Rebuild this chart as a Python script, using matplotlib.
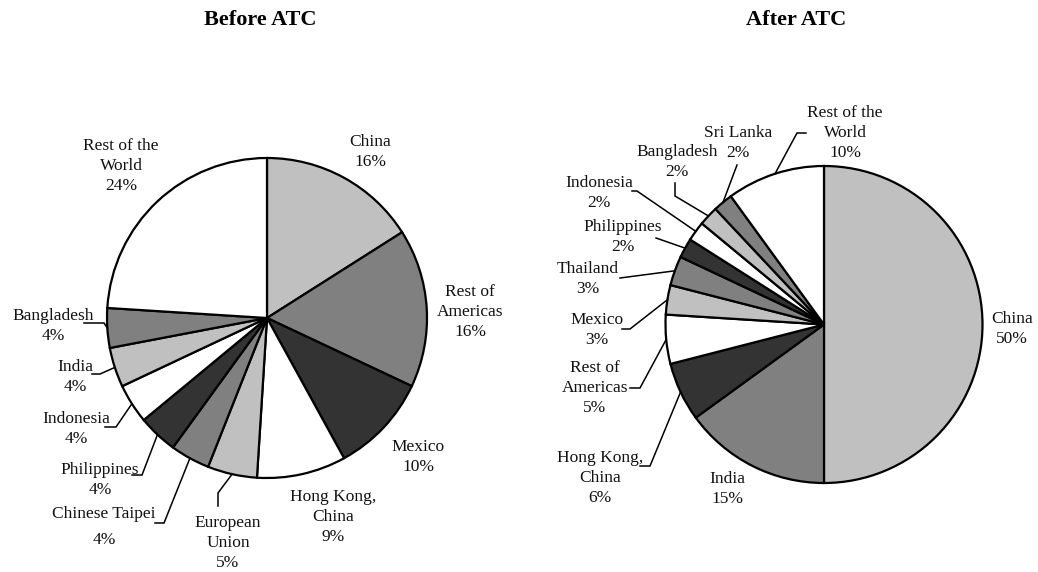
import matplotlib
matplotlib.use("Agg")
import matplotlib.pyplot as plt
import numpy as np

# ---- data -------------------------------------------------------------
before_labels = ["China", "Rest of\nAmericas", "Mexico", "Hong Kong,\nChina",
                 "European\nUnion", "Chinese Taipei", "Philippines", "Indonesia",
                 "India", "Bangladesh", "Rest of the\nWorld"]
before_values = [16, 16, 10, 9, 5, 4, 4, 4, 4, 4, 24]

after_labels = ["China", "India", "Hong Kong,\nChina", "Rest of\nAmericas",
                "Mexico", "Thailand", "Philippines", "Indonesia", "Bangladesh",
                "Sri Lanka", "Rest of the\nWorld"]
after_values = [50, 15, 6, 5, 3, 3, 2, 2, 2, 2, 10]

titles = ["Before ATC", "After ATC"]

# grey shades, slice by slice (the last slice, rest of the world, is white)
LG, MG, DG, WH = "#c0c0c0", "#808080", "#333333", "#ffffff"
slice_shades = [LG, MG, DG, WH, LG, MG, DG, WH, LG, MG, WH]

# ---- layout (canvas pixels, origin top-left) ---------------------------
W, H = 1038, 572
SERIF = ["Liberation Serif", "DejaVu Serif"]

before_layout = dict(
    center=(267, 318), radius=160, title=(260, 20),
    text={
        "China": ((370, 152), None),
        "Rest of\nAmericas": ((470, 312), None),
        "Mexico": ((418, 457), None),
        "Hong Kong,\nChina": ((333, 517), None),
        "European\nUnion": ((228, 543), [(218, 493), (218, 506)]),
        "Chinese Taipei": ((104, 527), [(164, 523), (155, 523)]),
        "Philippines": ((100, 480), [(142, 475), (132, 475)]),
        "Indonesia": ((76, 429), [(116, 427), (105, 427)]),
        "India": ((75, 377), [(100, 374), (92, 374)]),
        "Bangladesh": ((53, 326), [(104, 323), (84, 323)]),
        "Rest of the\nWorld": ((121, 166), None),
    },
)

after_layout = dict(
    center=(824, 324.5), radius=158.5, title=(796, 20),
    text={
        "China": ((1012, 329), None),
        "India": ((727, 489), None),
        "Hong Kong,\nChina": ((600, 478), [(650, 466), (640, 466)]),
        "Rest of\nAmericas": ((595, 388), [(640, 388), (630, 388)]),
        "Mexico": ((597, 330), [(630, 329), (622, 329)]),
        "Thailand": ((588, 279), [(620, 278)]),
        "Philippines": ((623, 237), [(656, 238)]),
        "Indonesia": ((599, 193), [(637, 191), (632, 191)]),
        "Bangladesh": ((677, 162), [(675, 196), (675, 183)]),
        "Sri Lanka": ((738, 143), [(737, 165)]),
        "Rest of the\nWorld": ((845, 133), [(797, 133), (806, 133)]),
    },
)

fig = plt.figure(figsize=(W / 100, H / 100), dpi=100)
ax = fig.add_axes([0, 0, 1, 1])


def draw_pie(labels, values, layout, title):
    cx, cy = layout["center"]
    r = layout["radius"]
    wedges, _ = ax.pie(values, colors=slice_shades[:len(values)],
                       center=(cx, cy), radius=r,
                       startangle=-90, counterclock=True,
                       wedgeprops=dict(edgecolor="black", linewidth=1.6))
    for lab, val, w in zip(labels, values, wedges):
        (tx, ty), path = layout["text"][lab]
        ls = 1.8 if lab == "Chinese Taipei" else 1.3
        ax.text(tx, ty, f"{lab}\n{val}%", ha="center", va="center",
                multialignment="center", fontsize=12.5, family=SERIF,
                linespacing=ls, color="#111111")
        if path:
            th = np.deg2rad((w.theta1 + w.theta2) / 2)
            pts = [(cx + r * np.cos(th), cy + r * np.sin(th))] + path
            xs, ys = zip(*pts)
            ax.plot(xs, ys, color="black", lw=1.1, solid_joinstyle="miter")
    tx, ty = layout["title"]
    ax.text(tx, ty, title, ha="center", va="center", fontsize=16,
            fontweight="bold", family=SERIF)


draw_pie(before_labels, before_values, before_layout, titles[0])
draw_pie(after_labels, after_values, after_layout, titles[1])

ax.set_xlim(0, W)
ax.set_ylim(H, 0)
ax.set_aspect("auto")
ax.axis("off")

fig.savefig("out.png", dpi=100, facecolor="white")
